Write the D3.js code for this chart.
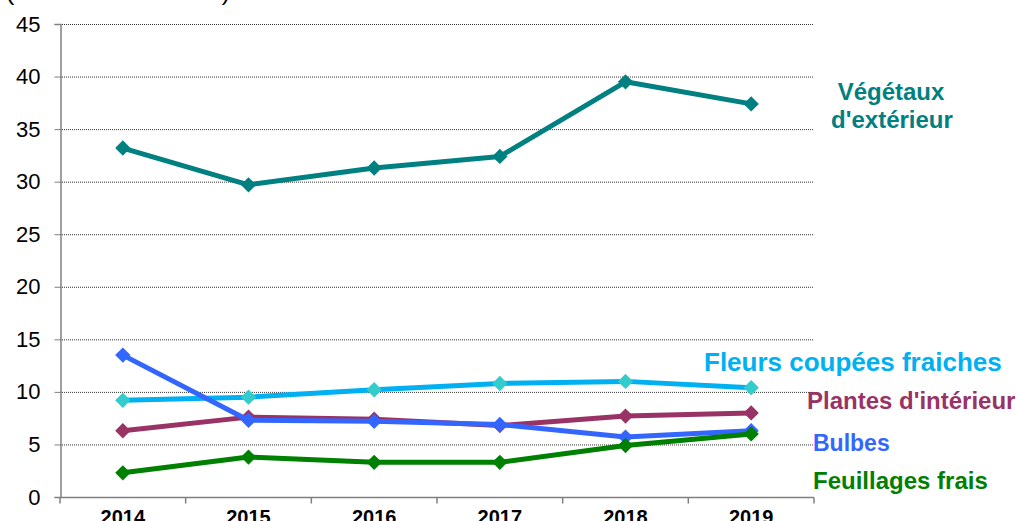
<!DOCTYPE html>
<html><head><meta charset="utf-8">
<script src="https://cdn.jsdelivr.net/npm/d3@7"></script>
<style>body{margin:0;background:#fff;}svg{display:block;font-family:Arial,"Liberation Sans",sans-serif;}</style>
</head><body>
<svg id="c" width="1017" height="521"></svg>
<script>
const years = ["2014","2015","2016","2017","2018","2019"];
const yTicks = [0,5,10,15,20,25,30,35,40,45];
const vegetaux = [33.2,29.7,31.3,32.4,39.5,37.4];
const fleurs = [9.2,9.5,10.2,10.8,11.0,10.4];
const plantes = [6.3,7.6,7.4,6.8,7.7,8.0];
const bulbes = [13.5,7.3,7.2,6.9,5.7,6.3];
const feuillages = [2.3,3.8,3.3,3.3,4.9,6.0];
const seriesNames = ["Végétaux d'extérieur","Fleurs coupées fraiches","Plantes d'intérieur","Bulbes","Feuillages frais"];

const series = [
  {name:seriesNames[0], values:vegetaux, line:"#008080", marker:"#008080"},
  {name:seriesNames[1], values:fleurs, line:"#00B0F0", marker:"#33CCCC"},
  {name:seriesNames[2], values:plantes, line:"#993366", marker:"#993366"},
  {name:seriesNames[3], values:bulbes, line:"#3366FF", marker:"#3366FF"},
  {name:seriesNames[4], values:feuillages, line:"#008000", marker:"#008000"}
];

const svg = d3.select("#c");
const L=60, R=814, T=24, B=497;
const x = d3.scaleBand().domain(years).range([L,R]);
const y = d3.scaleLinear().domain([0,45]).range([B,T]);

// unit label (cut at top, as in the reference)
svg.append("text").attr("x",6).attr("y",0).attr("font-size",22).attr("fill","#000")
  .attr("textLength",224).attr("lengthAdjust","spacingAndGlyphs").text("(en millions d'euros)");

// gridlines
svg.append("g").selectAll("line").data(yTicks.filter(d=>d>0)).join("line")
  .attr("x1",L).attr("x2",R).attr("y1",d=>y(d)+0.5).attr("y2",d=>y(d)+0.5)
  .attr("stroke","#333").attr("stroke-width",1).attr("stroke-dasharray","1,1");

// y axis
const ya = svg.append("g").attr("transform",`translate(${L+0.5},0)`).call(d3.axisLeft(y).tickValues(yTicks).tickSize(6).tickPadding(14));
ya.select(".domain").attr("stroke","#808080").attr("stroke-width",1.5);
ya.selectAll(".tick line").attr("stroke","#808080");
ya.selectAll("text").attr("font-size",22).attr("fill","#000").attr("font-family","Arial,'Liberation Sans',sans-serif");

// x axis
const xa = svg.append("g").attr("transform",`translate(0,${B+0.5})`);
xa.append("line").attr("x1",L).attr("x2",R).attr("stroke","#808080").attr("stroke-width",1.5);
const bounds = years.map(d=>x(d)).concat([x(years[years.length-1])+x.bandwidth()]);
xa.selectAll("line.t").data(bounds).join("line").attr("class","t")
  .attr("x1",d=>d).attr("x2",d=>d).attr("y1",0).attr("y2",6).attr("stroke","#808080").attr("stroke-width",1.5);
xa.selectAll("text").data(years).join("text")
  .attr("x",d=>x(d)+x.bandwidth()/2).attr("y",26).attr("text-anchor","middle")
  .attr("font-size",20).attr("font-weight","bold").attr("fill","#000").text(d=>d);

const line = d3.line().x((d,i)=>x(years[i])+x.bandwidth()/2).y(d=>y(d));
const sym = d3.symbol().type(d3.symbolDiamond2).size(150);

series.forEach(s=>{
  const g = svg.append("g");
  g.append("path").attr("d",line(s.values)).attr("fill","none").attr("stroke",s.line).attr("stroke-width",5).attr("stroke-linejoin","round");
  g.selectAll("path.m").data(s.values).join("path").attr("class","m")
    .attr("transform",(d,i)=>`translate(${x(years[i])+x.bandwidth()/2},${y(d)})`)
    .attr("d",sym).attr("fill",s.marker);
});

// labels
const lab = svg.append("g").attr("font-weight","bold");
lab.append("text").attr("x",891).attr("y",100).attr("text-anchor","middle").attr("font-size",24).attr("fill","#008080").text("Végétaux");
lab.append("text").attr("x",892).attr("y",128).attr("text-anchor","middle").attr("font-size",24).attr("fill","#008080").text("d'extérieur");
lab.append("text").attr("x",704).attr("y",371).attr("font-size",26).attr("fill","#00B0F0").text(seriesNames[1]);
lab.append("text").attr("x",807).attr("y",409).attr("font-size",24).attr("fill","#993366").text(seriesNames[2]);
lab.append("text").attr("x",813).attr("y",451).attr("font-size",23).attr("fill","#3366FF").text(seriesNames[3]);
lab.append("text").attr("x",813).attr("y",489).attr("font-size",24).attr("fill","#008000").text(seriesNames[4]);
</script>
</body></html>
